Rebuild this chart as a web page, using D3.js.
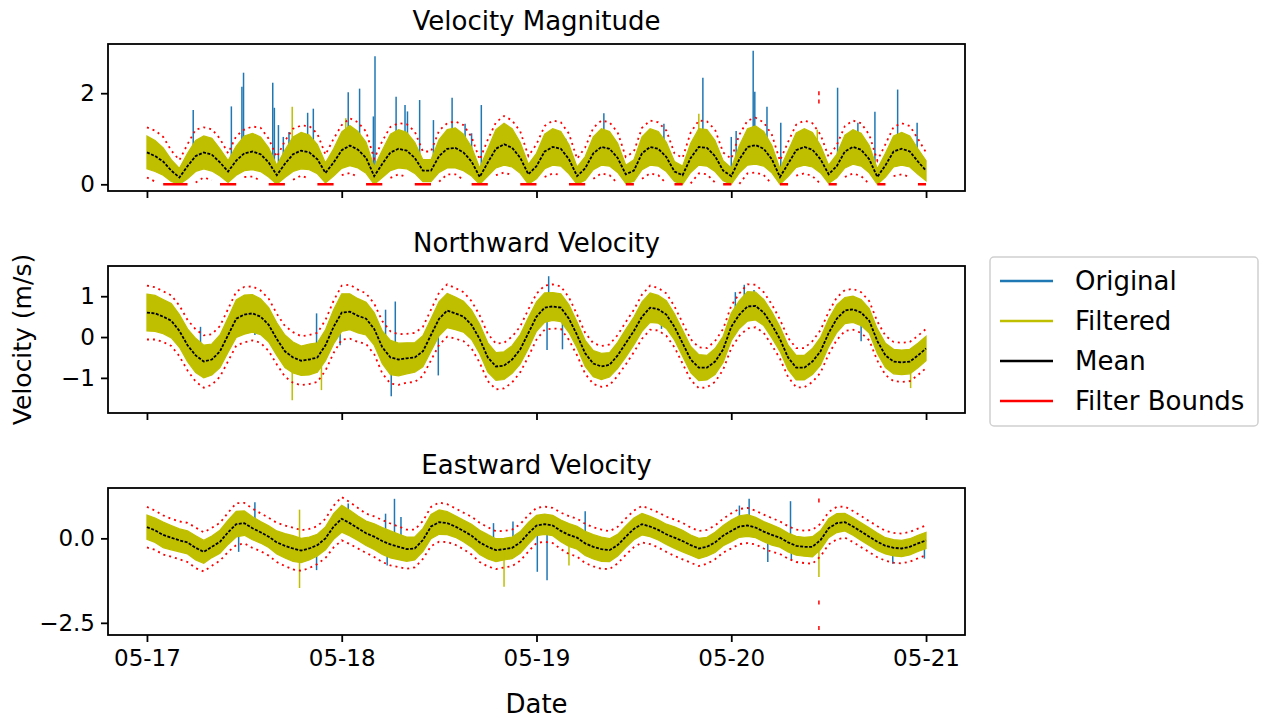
<!DOCTYPE html>
<html>
<head>
<meta charset="utf-8">
<script src="https://cdn.jsdelivr.net/npm/d3@7"></script>
<style>
  body { margin: 0; background: #fff; }
  text { font-family: "DejaVu Sans", sans-serif; fill: #000; }
</style>
</head>
<body>
<svg id="chart" width="1264" height="719"></svg>
<script>
'use strict';

// ---- data (hourly, 05-17 00:00 .. 05-21 00:00) ----
var dayLabels = ["05-17", "05-18", "05-19", "05-20", "05-21"];
var seriesNames = ["Original", "Filtered", "Mean", "Filter Bounds"];

// velocity magnitude
var magMean = [0.70,0.62,0.50,0.30,0.15,0.40,0.62,0.70,0.65,0.48,0.28,0.52,
  0.68,0.72,0.66,0.48,0.20,0.45,0.66,0.74,0.70,0.55,0.25,0.48,
  0.75,0.85,0.76,0.58,0.18,0.45,0.70,0.78,0.74,0.58,0.30,0.30,
  0.62,0.78,0.80,0.70,0.50,0.16,0.48,0.78,0.88,0.80,0.58,0.22,
  0.40,0.72,0.82,0.78,0.55,0.18,0.35,0.68,0.82,0.78,0.58,0.22,
  0.30,0.68,0.82,0.78,0.60,0.28,0.20,0.58,0.82,0.80,0.62,0.30,
  0.18,0.55,0.82,0.86,0.78,0.55,0.16,0.45,0.75,0.82,0.76,0.55,
  0.22,0.40,0.72,0.82,0.76,0.55,0.16,0.42,0.72,0.78,0.72,0.50,0.30];
var magSpread = [0.36,0.34,0.30,0.24,0.20,0.28,0.34,0.36,0.36,0.30,0.24,0.32,
  0.38,0.40,0.38,0.32,0.22,0.30,0.38,0.40,0.38,0.32,0.22,0.30,
  0.40,0.44,0.40,0.34,0.20,0.30,0.40,0.42,0.40,0.34,0.24,0.24,
  0.36,0.42,0.44,0.40,0.32,0.20,0.30,0.42,0.46,0.42,0.34,0.22,
  0.28,0.38,0.40,0.38,0.32,0.20,0.26,0.36,0.40,0.38,0.32,0.20,
  0.24,0.36,0.40,0.38,0.32,0.22,0.20,0.32,0.40,0.40,0.34,0.22,
  0.18,0.30,0.40,0.42,0.38,0.30,0.18,0.28,0.38,0.40,0.38,0.30,
  0.20,0.26,0.36,0.38,0.36,0.30,0.18,0.26,0.34,0.36,0.34,0.28,0.22];
var magBound = [0.55,0.56,0.54,0.44,0.38,0.48,0.58,0.55,0.56,0.52,0.40,0.54,
  0.52,0.55,0.58,0.52,0.40,0.50,0.56,0.55,0.58,0.56,0.40,0.52,
  0.55,0.60,0.60,0.58,0.38,0.50,0.56,0.56,0.58,0.58,0.42,0.42,
  0.56,0.56,0.58,0.60,0.54,0.38,0.50,0.58,0.62,0.60,0.58,0.40,
  0.48,0.56,0.58,0.58,0.56,0.38,0.46,0.56,0.58,0.58,0.56,0.38,
  0.42,0.56,0.58,0.58,0.58,0.40,0.38,0.56,0.58,0.58,0.58,0.40,
  0.38,0.54,0.58,0.60,0.58,0.54,0.36,0.48,0.56,0.58,0.58,0.54,
  0.38,0.46,0.56,0.58,0.58,0.54,0.36,0.46,0.54,0.56,0.56,0.50,0.40];
var magSpikes = [[5.7,1.63],[10.4,1.71],[11.7,2.14],[11.9,2.45],[15.5,2.23],[15.7,1.68],
  [16.2,1.30],[16.8,1.04],[17.5,1.15],[19.8,1.57],[20.5,1.66],[24.8,2.02],[26.2,2.10],
  [27.9,1.49],[28.1,2.81],[30.7,1.92],[31.8,1.74],[32.1,1.60],[33.6,1.85],[35.3,1.41],
  [37.6,1.90],[39.2,1.33],[40.0,1.12],[41.2,1.74],[51.6,1.00],[56.3,1.56],[63.7,1.33],
  [68.5,2.34],[72.0,1.04],[72.6,1.17],[74.7,2.93],[74.9,2.03],[76.4,1.70],[78.1,1.35],
  [85.1,2.12],[87.6,1.35],[89.7,1.59],[92.5,2.08],[94.9,1.35]];
var magFiltSpikes = [[17.9,1.70],[24.5,1.45],[68.0,1.55],[82.6,1.20]];
var magBoundOut = [[82.8,2.00],[82.8,1.82]];

// northward velocity
var northMean = [0.60,0.58,0.50,0.40,0.15,-0.20,-0.45,-0.60,-0.55,-0.35,0.05,0.45,
  0.55,0.58,0.50,0.30,-0.05,-0.35,-0.50,-0.58,-0.55,-0.50,-0.20,0.25,
  0.60,0.62,0.52,0.45,0.20,-0.25,-0.50,-0.55,-0.52,-0.50,-0.35,0.05,
  0.45,0.65,0.58,0.50,0.30,-0.05,-0.50,-0.72,-0.70,-0.55,-0.30,0.10,
  0.50,0.72,0.75,0.72,0.45,0.05,-0.40,-0.65,-0.72,-0.68,-0.45,-0.15,
  0.15,0.50,0.72,0.68,0.55,0.25,-0.15,-0.55,-0.75,-0.75,-0.60,-0.30,
  0.25,0.55,0.75,0.76,0.60,0.30,-0.05,-0.50,-0.75,-0.75,-0.60,-0.35,
  0.10,0.45,0.65,0.68,0.60,0.40,-0.10,-0.45,-0.60,-0.62,-0.60,-0.45,-0.28];
var northSpread = [0.45,0.44,0.42,0.42,0.40,0.40,0.42,0.40,0.38,0.40,0.42,0.46,
  0.48,0.46,0.44,0.42,0.40,0.40,0.38,0.36,0.38,0.36,0.38,0.42,
  0.46,0.44,0.42,0.40,0.40,0.40,0.42,0.40,0.38,0.36,0.38,0.40,
  0.42,0.42,0.40,0.38,0.36,0.36,0.36,0.34,0.34,0.34,0.36,0.38,
  0.36,0.36,0.34,0.34,0.34,0.32,0.32,0.32,0.32,0.30,0.32,0.34,
  0.34,0.36,0.36,0.34,0.34,0.32,0.32,0.32,0.32,0.30,0.32,0.32,
  0.34,0.34,0.36,0.34,0.32,0.32,0.30,0.30,0.30,0.30,0.32,0.34,
  0.34,0.34,0.32,0.32,0.32,0.30,0.30,0.30,0.30,0.30,0.30,0.30,0.30];
var northBound = [0.66,0.64,0.62,0.62,0.62,0.62,0.64,0.64,0.62,0.62,0.64,0.66,
  0.68,0.66,0.64,0.64,0.62,0.62,0.62,0.60,0.60,0.60,0.62,0.64,
  0.66,0.66,0.64,0.62,0.62,0.64,0.64,0.62,0.60,0.60,0.60,0.62,
  0.64,0.64,0.62,0.60,0.58,0.58,0.58,0.56,0.56,0.56,0.56,0.58,
  0.56,0.54,0.54,0.52,0.52,0.50,0.50,0.50,0.50,0.50,0.50,0.52,
  0.52,0.54,0.54,0.52,0.52,0.50,0.50,0.50,0.50,0.48,0.50,0.50,
  0.52,0.52,0.54,0.52,0.50,0.50,0.48,0.48,0.48,0.48,0.50,0.52,
  0.52,0.52,0.50,0.50,0.50,0.48,0.48,0.48,0.48,0.48,0.48,0.48,0.48];
var northSpikes = [[6.6,0.25],[13.3,0.05],[20.9,0.58],[23.8,-0.20],[29.4,0.67],[30.1,-1.45],
  [30.6,0.87],[35.9,-0.94],[49.3,-0.32],[49.5,1.49],[51.2,-0.30],[63.4,0.20],
  [72.5,1.10],[73.6,1.28],[74.8,1.15],[81.3,-0.55],[88.0,-0.10]];
var northFiltSpikes = [[17.9,-1.55],[21.5,-1.30],[94.1,-1.25]];
var northBoundOut = [];

// eastward velocity
var eastMean = [0.33,0.24,0.10,0.02,-0.06,-0.12,-0.28,-0.40,-0.25,-0.10,0.18,0.42,
  0.45,0.30,0.18,0.05,-0.12,-0.22,-0.30,-0.36,-0.30,-0.20,0.00,0.35,
  0.58,0.45,0.30,0.15,0.05,-0.08,-0.18,-0.25,-0.32,-0.30,-0.05,0.35,
  0.48,0.45,0.35,0.22,0.08,-0.12,-0.25,-0.35,-0.32,-0.28,-0.12,0.15,
  0.38,0.42,0.38,0.22,0.10,0.02,-0.15,-0.25,-0.32,-0.35,-0.20,0.05,
  0.28,0.42,0.35,0.25,0.12,0.02,-0.08,-0.20,-0.30,-0.25,-0.12,0.08,
  0.22,0.35,0.38,0.32,0.20,0.10,0.02,-0.12,-0.22,-0.25,-0.25,-0.05,
  0.30,0.45,0.48,0.35,0.20,0.05,-0.10,-0.22,-0.28,-0.30,-0.25,-0.15,-0.06];
var eastSpread = [0.36,0.36,0.38,0.36,0.34,0.34,0.36,0.34,0.32,0.34,0.36,0.38,
  0.36,0.34,0.32,0.32,0.34,0.36,0.38,0.36,0.34,0.32,0.34,0.38,
  0.40,0.38,0.36,0.36,0.38,0.40,0.40,0.38,0.36,0.34,0.34,0.36,
  0.36,0.34,0.32,0.32,0.34,0.36,0.36,0.34,0.32,0.32,0.32,0.32,
  0.30,0.30,0.30,0.32,0.34,0.34,0.36,0.36,0.36,0.34,0.32,0.32,
  0.32,0.32,0.30,0.30,0.30,0.32,0.32,0.30,0.30,0.28,0.30,0.30,
  0.32,0.32,0.32,0.30,0.30,0.30,0.28,0.28,0.28,0.28,0.30,0.28,
  0.28,0.28,0.26,0.26,0.26,0.26,0.26,0.24,0.24,0.24,0.24,0.24,0.24];
var eastBound = [0.60,0.58,0.58,0.56,0.56,0.58,0.60,0.58,0.56,0.56,0.58,0.62,
  0.60,0.58,0.56,0.56,0.58,0.60,0.62,0.60,0.58,0.56,0.58,0.62,
  0.64,0.62,0.60,0.58,0.60,0.62,0.62,0.60,0.58,0.56,0.56,0.58,
  0.58,0.56,0.54,0.54,0.56,0.58,0.58,0.56,0.54,0.54,0.54,0.54,
  0.52,0.52,0.52,0.54,0.56,0.56,0.58,0.58,0.58,0.56,0.54,0.54,
  0.54,0.54,0.52,0.52,0.52,0.54,0.54,0.52,0.52,0.50,0.50,0.50,
  0.52,0.52,0.52,0.50,0.50,0.50,0.48,0.48,0.48,0.48,0.50,0.48,
  0.48,0.48,0.46,0.46,0.46,0.46,0.46,0.44,0.44,0.44,0.44,0.44,0.44];
var eastSpikes = [[11.3,-0.40],[13.3,1.07],[20.9,-0.94],[24.8,1.03],[29.4,0.73],[29.6,-0.80],
  [30.5,1.17],[31.3,0.63],[42.7,0.45],[45.1,0.50],[48.1,-0.99],[49.3,-1.24],[54.0,0.80],
  [73.0,0.97],[74.2,1.17],[76.5,-0.70],[79.3,1.10],[79.4,-0.65],[81.9,-0.45],[91.9,-0.75],[95.8,-0.60]];
var eastFiltSpikes = [[18.8,0.85],[18.8,-1.47],[44.0,-1.43],[52.0,-0.80],[82.8,-1.14]];
var eastBoundOut = [[82.8,1.12],[82.8,-1.90],[82.8,-2.65]];

// ---- layout ----
var svg = d3.select("#chart");
var left = 108, right = 965, plotH = 147;
var tops = [44, 266, 488];
var colOrig = "#1f77b4", colFilt = "#bfbf00", colMean = "#000", colBound = "#ff0000";

var t0 = Date.UTC(2024, 4, 17);
var hourMs = 3600 * 1000;
function toDate(h) { return new Date(t0 + h * hourMs); }
var dayTicks = dayLabels.map(function(d, i) { return toDate(24 * i); });

var x = d3.scaleUtc()
  .domain([toDate(-4.8), toDate(100.8)])
  .range([left, right]);

var panels = [
  { title: "Velocity Magnitude", mean: magMean, spread: magSpread, bound: magBound,
    spikes: magSpikes, filt: magFiltSpikes, out: magBoundOut,
    domain: [-0.147, 3.08], ticks: [0, 2], fmt: d3.format("d"), floor: true },
  { title: "Northward Velocity", mean: northMean, spread: northSpread, bound: northBound,
    spikes: northSpikes, filt: northFiltSpikes, out: northBoundOut,
    domain: [-1.86, 1.74], ticks: [-1, 0, 1], fmt: d3.format("d"), floor: false },
  { title: "Eastward Velocity", mean: eastMean, spread: eastSpread, bound: eastBound,
    spikes: eastSpikes, filt: eastFiltSpikes, out: eastBoundOut,
    domain: [-2.86, 1.49], ticks: [-2.5, 0], fmt: d3.format(".1f"), floor: false }
];

panels.forEach(function(p, pi) {
  var top = tops[pi];
  var y = d3.scaleLinear().domain(p.domain).range([top + plotH, top]);
  var lo = function(v) { return p.floor ? Math.max(0, v) : v; };

  svg.append("clipPath").attr("id", "clip" + pi)
    .append("rect").attr("x", left).attr("y", top)
    .attr("width", right - left).attr("height", plotH);

  var g = svg.append("g").attr("clip-path", "url(#clip" + pi + ")");

  // original: spikes that stick out of the filtered band
  g.selectAll(".spike").data(p.spikes).enter().append("line")
    .attr("x1", function(d) { return x(toDate(d[0])); })
    .attr("x2", function(d) { return x(toDate(d[0])); })
    .attr("y1", function(d) { return y(p.mean[Math.round(d[0])]); })
    .attr("y2", function(d) { return y(d[1]); })
    .attr("stroke", colOrig)
    .attr("stroke-width", 1.5);

  // filtered band
  var band = d3.area()
    .x(function(d, i) { return x(toDate(i)); })
    .y0(function(d, i) { return y(lo(d - p.spread[i])); })
    .y1(function(d, i) { return y(d + p.spread[i]); });
  g.append("path").datum(p.mean)
    .attr("d", band)
    .attr("fill", colFilt)
    .attr("stroke", colFilt)
    .attr("stroke-width", 1.2);

  g.selectAll(".fspike").data(p.filt).enter().append("line")
    .attr("x1", function(d) { return x(toDate(d[0])); })
    .attr("x2", function(d) { return x(toDate(d[0])); })
    .attr("y1", function(d) { return y(p.mean[Math.round(d[0])]); })
    .attr("y2", function(d) { return y(d[1]); })
    .attr("stroke", colFilt)
    .attr("stroke-width", 1.5);

  // mean
  var meanLine = d3.line()
    .x(function(d, i) { return x(toDate(i)); })
    .y(function(d) { return y(d); });
  g.append("path").datum(p.mean)
    .attr("d", meanLine)
    .attr("fill", "none")
    .attr("stroke", colMean)
    .attr("stroke-width", 1.8)
    .attr("stroke-dasharray", "3,1.5");

  // filter bounds
  var upper = p.mean.map(function(d, i) { return d + p.bound[i]; });
  var lower = p.mean.map(function(d, i) { return lo(d - p.bound[i]); });
  var boundLine = d3.line()
    .defined(function(d) { return !p.floor || d > 0; })
    .x(function(d, i) { return x(toDate(i)); })
    .y(function(d) { return y(d); });
  [upper, lower].forEach(function(arr) {
    g.append("path").datum(arr)
      .attr("d", boundLine)
      .attr("fill", "none")
      .attr("stroke", colBound)
      .attr("stroke-width", 1.8)
      .attr("stroke-dasharray", "2,4");
  });
  if (p.floor) {
    var zeroLine = d3.line()
      .defined(function(d) { return d <= 0; })
      .x(function(d, i) { return x(toDate(i)); })
      .y(function(d) { return y(d); });
    g.append("path").datum(lower)
      .attr("d", zeroLine)
      .attr("fill", "none")
      .attr("stroke", colBound)
      .attr("stroke-width", 2.4);
  }
  g.selectAll(".bout").data(p.out).enter().append("line")
    .attr("x1", function(d) { return x(toDate(d[0])); })
    .attr("x2", function(d) { return x(toDate(d[0])); })
    .attr("y1", function(d) { return y(d[1]) - 2; })
    .attr("y2", function(d) { return y(d[1]) + 2; })
    .attr("stroke", colBound)
    .attr("stroke-width", 1.5);

  // frame
  svg.append("rect")
    .attr("x", left).attr("y", top)
    .attr("width", right - left).attr("height", plotH)
    .attr("fill", "none").attr("stroke", "#000").attr("stroke-width", 1.8);

  // y axis
  var ya = svg.append("g")
    .attr("transform", "translate(" + left + ",0)")
    .call(d3.axisLeft(y).tickValues(p.ticks).tickFormat(p.fmt).tickSize(7).tickPadding(6));
  ya.select(".domain").remove();
  ya.selectAll("line").attr("stroke-width", 1.8);
  ya.selectAll("text").style("font-size", "23px").attr("font-family", null);

  // x axis (labels only on the bottom panel)
  var xa = svg.append("g")
    .attr("transform", "translate(0," + (top + plotH) + ")")
    .call(d3.axisBottom(x).tickValues(dayTicks)
      .tickFormat(function(d, i) { return pi == 2 ? dayLabels[i] : ""; })
      .tickSize(7).tickPadding(8));
  xa.select(".domain").remove();
  xa.selectAll("line").attr("stroke-width", 1.8);
  xa.selectAll("text").style("font-size", "23px").attr("font-family", null);

  // title
  svg.append("text")
    .attr("x", (left + right) / 2)
    .attr("y", top - 14)
    .attr("text-anchor", "middle")
    .style("font-size", "26px")
    .text(p.title);
});

// axis labels
svg.append("text")
  .attr("x", (left + right) / 2)
  .attr("y", 713)
  .attr("text-anchor", "middle")
  .style("font-size", "26px")
  .text("Date");

svg.append("text")
  .attr("transform", "translate(31," + (tops[1] + plotH / 2) + ") rotate(-90)")
  .attr("text-anchor", "middle")
  .style("font-size", "25px")
  .text("Velocity (m/s)");

// legend
var legend = svg.append("g").attr("transform", "translate(990,257)");
legend.append("rect")
  .attr("width", 268).attr("height", 169)
  .attr("rx", 4)
  .attr("fill", "#fff")
  .attr("stroke", "#d0d0d0")
  .attr("stroke-width", 1.5);
var legendCols = [colOrig, colFilt, colMean, colBound];
var rows = legend.selectAll(".row").data(seriesNames).enter().append("g")
  .attr("transform", function(d, i) { return "translate(0," + (24 + i * 40) + ")"; });
rows.append("line")
  .attr("x1", 10).attr("x2", 63)
  .attr("stroke", function(d, i) { return legendCols[i]; })
  .attr("stroke-width", 2.4);
rows.append("text")
  .attr("x", 85)
  .attr("dy", "0.35em")
  .style("font-size", "26px")
  .text(function(d) { return d; });
</script>
</body>
</html>
